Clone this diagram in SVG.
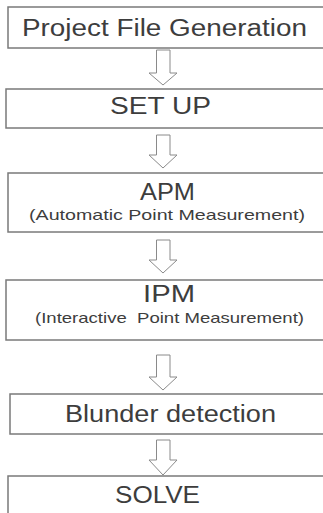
<svg xmlns="http://www.w3.org/2000/svg" width="323" height="513" viewBox="0 0 323 513">
  <style>
    .box { fill: #ffffff; stroke: #7a7a7a; stroke-width: 1.5; }
    .title { font-family: "Liberation Sans", Arial, sans-serif; font-size: 23.5px; fill: #3d3d3d; text-anchor: middle; }
    .sub { font-family: "Liberation Sans", Arial, sans-serif; font-size: 15px; fill: #3d3d3d; text-anchor: middle; }
    .flow { fill: #ffffff; stroke: #8a8a8a; stroke-width: 1; stroke-linejoin: miter; }
  </style>
  <rect width="323" height="513" fill="#ffffff"/>

  <g id="connectors">
    <path class="flow" d="M156.5,50 H170 V73 H177 L163,85 L149,73 H156.5 Z"/>
    <path class="flow" d="M156.5,135 H170 V155 H177 L163,168 L149,155 H156.5 Z"/>
    <path class="flow" d="M156.5,240 H170 V260 H177 L163,273 L149,260 H156.5 Z"/>
    <path class="flow" d="M156.5,355 H170 V377 H177 L163,390 L149,377 H156.5 Z"/>
    <path class="flow" d="M156.5,440 H170 V460 H177 L163,475 L149,460 H156.5 Z"/>
  </g>

  <g id="project-file-generation">
    <rect class="box" x="8" y="7" width="330" height="41"/>
    <text class="title" x="164.5" y="36" textLength="285" lengthAdjust="spacingAndGlyphs">Project File Generation</text>
  </g>

  <g id="set-up">
    <rect class="box" x="6" y="89" width="330" height="39"/>
    <text class="title" x="160.5" y="113.5" textLength="101" lengthAdjust="spacingAndGlyphs">SET UP</text>
  </g>

  <g id="apm">
    <rect class="box" x="8" y="173" width="330" height="59"/>
    <text class="title" x="167.5" y="200" textLength="55" lengthAdjust="spacingAndGlyphs">APM</text>
    <text class="sub" x="167" y="220" textLength="276" lengthAdjust="spacingAndGlyphs">(Automatic Point Measurement)</text>
  </g>

  <g id="ipm">
    <rect class="box" x="6" y="280" width="330" height="60"/>
    <text class="title" x="169" y="302" textLength="52" lengthAdjust="spacingAndGlyphs">IPM</text>
    <text class="sub" x="169.5" y="323" textLength="269" lengthAdjust="spacingAndGlyphs" xml:space="preserve">(Interactive  Point Measurement)</text>
  </g>

  <g id="blunder-detection">
    <rect class="box" x="10" y="394" width="330" height="40"/>
    <text class="title" x="170.5" y="422" textLength="211" lengthAdjust="spacingAndGlyphs">Blunder detection</text>
  </g>

  <g id="solve">
    <rect class="box" x="8" y="476" width="330" height="50"/>
    <text class="title" x="157.5" y="503" textLength="85" lengthAdjust="spacingAndGlyphs">SOLVE</text>
  </g>
</svg>
